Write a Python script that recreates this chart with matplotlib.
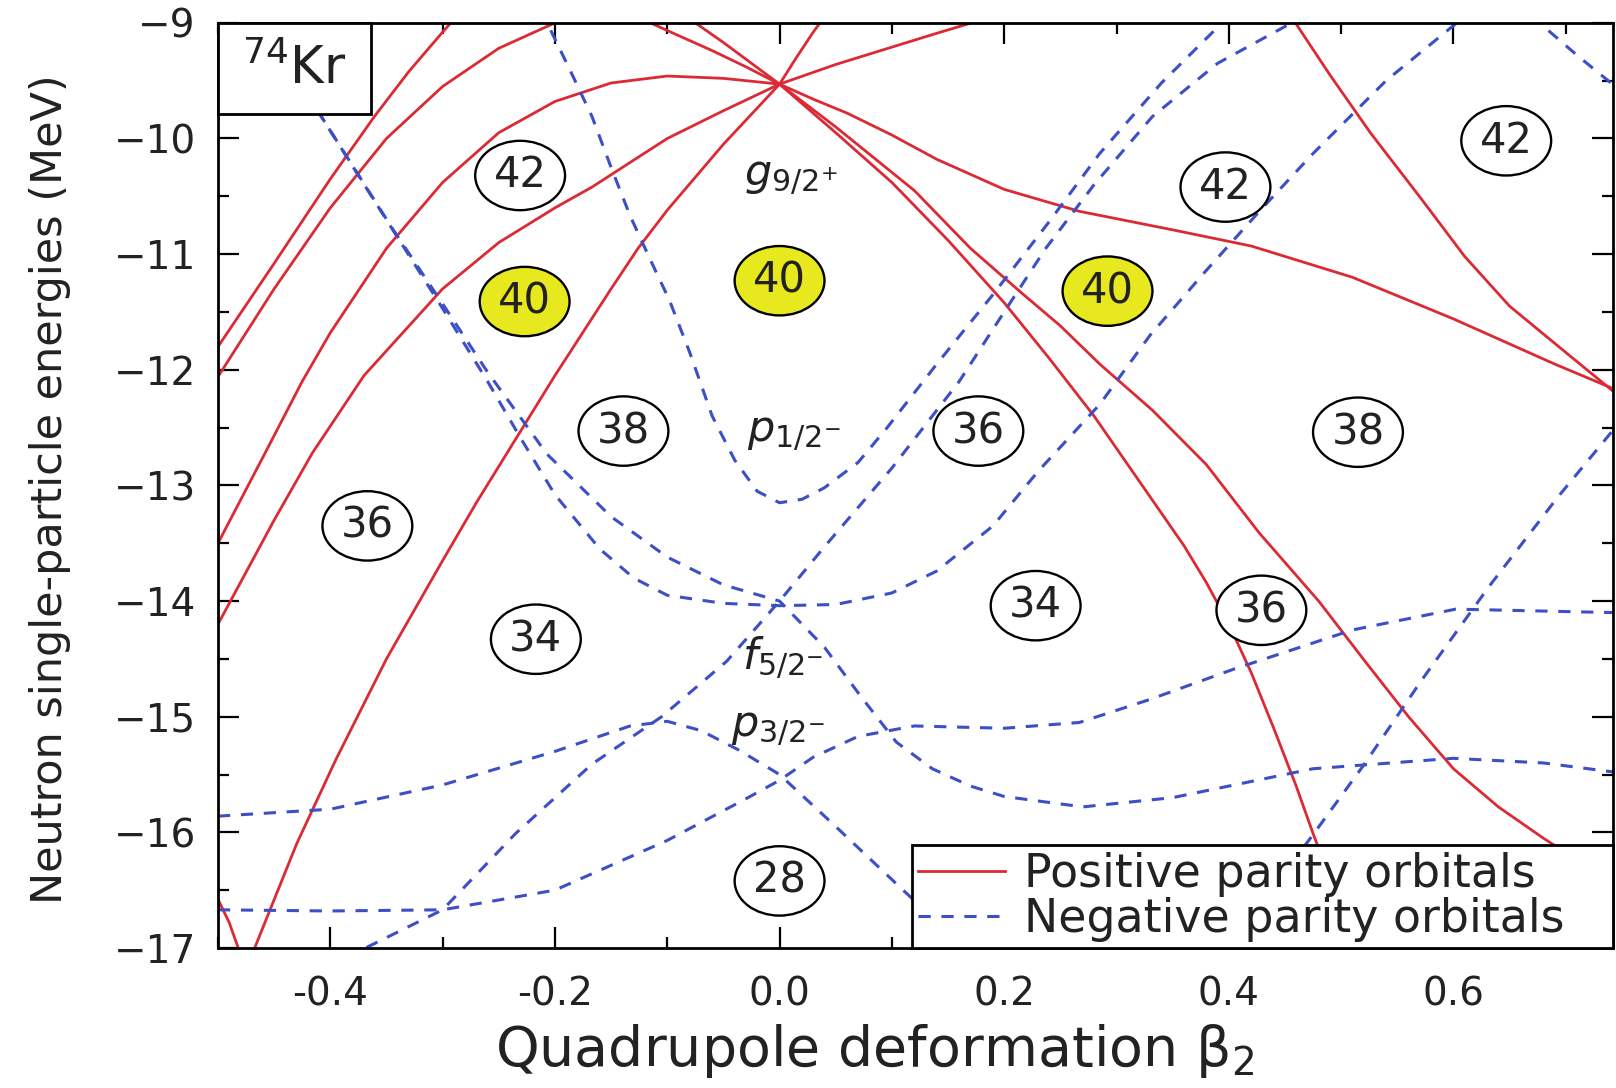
"""
plot.py
=======

Neutron Nilsson-type single-particle diagram for 74Kr, energies versus
quadrupole deformation beta_2.  Curve points are read off the reference
figure by eye.
"""

import matplotlib
matplotlib.use("Agg")
import matplotlib.pyplot as plt
from matplotlib.lines import Line2D
from matplotlib.patches import Ellipse, Rectangle
from matplotlib.ticker import FormatStrFormatter, MultipleLocator


# ---------------------------------------------------------------------------
# Positive parity orbitals (beta_2, energy in MeV)
# ---------------------------------------------------------------------------
POS_OBLATE_1 = [(-0.5, -11.8), (-0.45, -11.08), (-0.4, -10.35), (-0.36, -9.8),
                (-0.33, -9.42), (-0.3, -9.08), (-0.29, -8.97)]
POS_OBLATE_2 = [(-0.5, -12.06), (-0.45, -11.3), (-0.4, -10.6), (-0.35, -10.0),
                (-0.3, -9.55), (-0.25, -9.22), (-0.2, -9.0), (-0.18, -8.93)]
POS_ARCH = [(-0.5, -13.5), (-0.457, -12.7), (-0.425, -12.1), (-0.4, -11.68),
            (-0.35, -10.95), (-0.3, -10.38), (-0.25, -9.95), (-0.2, -9.68),
            (-0.15, -9.52), (-0.1, -9.46), (-0.05, -9.48), (0.0, -9.53)]
POS_OBLATE_4 = [(-0.5, -14.2), (-0.45, -13.3), (-0.416, -12.72), (-0.37, -12.05),
                (-0.3, -11.3), (-0.25, -10.9), (-0.2, -10.6), (-0.167, -10.42),
                (-0.1, -10.0), (-0.05, -9.76), (0.0, -9.53)]
POS_OBLATE_5 = [(0.0, -9.53), (-0.05, -10.05), (-0.1, -10.62), (-0.126, -10.95),
                (-0.15, -11.3), (-0.2, -12.05), (-0.235, -12.6), (-0.27, -13.15),
                (-0.3, -13.65), (-0.35, -14.5), (-0.395, -15.37), (-0.43, -16.1),
                (-0.469, -17.04), (-0.48, -17.3)]
POS_UPLEFT_1 = [(0.0, -9.53), (-0.03, -9.38), (-0.06, -9.24), (-0.09, -9.11),
                (-0.115, -9.0), (-0.13, -8.94)]
POS_UPLEFT_2 = [(0.0, -9.53), (-0.025, -9.35), (-0.05, -9.17), (-0.075, -9.0),
                (-0.085, -8.93)]
POS_UPRIGHT_1 = [(0.0, -9.53), (0.015, -9.3), (0.03, -9.08), (0.036, -9.0),
                 (0.04, -8.93)]
POS_UPRIGHT_2 = [(0.0, -9.53), (0.05, -9.36), (0.1, -9.21), (0.14, -9.09),
                 (0.171, -9.0), (0.18, -8.97)]
POS_PROLATE_S = [(0.0, -9.53), (0.03, -9.66), (0.06, -9.78), (0.1, -9.97),
                 (0.14, -10.18), (0.2, -10.44), (0.267, -10.63), (0.35, -10.79),
                 (0.42, -10.93), (0.51, -11.2), (0.6, -11.56), (0.69, -11.95),
                 (0.744, -12.17)]
POS_FROM_TOP = [(0.455, -8.93), (0.462, -9.04), (0.49, -9.45), (0.526, -9.95),
                (0.572, -10.53), (0.61, -11.02), (0.65, -11.45), (0.7, -11.85),
                (0.744, -12.2)]
POS_PROLATE_A = [(0.0, -9.53), (0.05, -9.95), (0.1, -10.38), (0.15, -10.88),
                 (0.2, -11.42), (0.24, -11.9), (0.28, -12.4), (0.33, -13.1),
                 (0.36, -13.52), (0.38, -13.84), (0.4, -14.2), (0.42, -14.62),
                 (0.44, -15.1), (0.46, -15.6), (0.475, -16.01), (0.5, -16.65),
                 (0.52, -17.2)]
POS_PROLATE_B = [(0.0, -9.53), (0.05, -9.9), (0.12, -10.45), (0.17, -10.95),
                 (0.216, -11.34), (0.25, -11.62), (0.285, -11.95), (0.332, -12.35),
                 (0.38, -12.82), (0.427, -13.41), (0.48, -14.0), (0.522, -14.53),
                 (0.56, -15.0), (0.6, -15.45), (0.64, -15.78), (0.68, -16.05),
                 (0.744, -16.45)]
POS_CORNER = [(-0.5, -16.58), (-0.49, -16.78), (-0.482, -17.0), (-0.475, -17.2)]

# ---------------------------------------------------------------------------
# Negative parity orbitals
# ---------------------------------------------------------------------------
NEG_P12 = [(-0.215, -8.9), (-0.207, -9.0), (-0.187, -9.4), (-0.167, -9.81),
           (-0.15, -10.25), (-0.133, -10.67), (-0.115, -11.05), (-0.098, -11.4),
           (-0.08, -11.85), (-0.06, -12.4), (-0.04, -12.78), (-0.02, -13.05),
           (0.0, -13.15), (0.02, -13.12), (0.04, -13.02), (0.07, -12.8),
           (0.095, -12.51), (0.14, -11.95), (0.19, -11.35), (0.24, -10.72),
           (0.285, -10.13), (0.34, -9.52), (0.394, -9.0), (0.4, -8.94)]
NEG_F52_U = [(-0.465, -8.9), (-0.41, -9.78), (-0.36, -10.55), (-0.3, -11.47),
             (-0.26, -12.1), (-0.23, -12.6), (-0.2, -13.08), (-0.16, -13.55),
             (-0.13, -13.8), (-0.1, -13.95), (-0.05, -14.02), (0.0, -14.04),
             (0.05, -14.03), (0.1, -13.93), (0.14, -13.74), (0.19, -13.35),
             (0.23, -12.88), (0.285, -12.3), (0.33, -11.7), (0.38, -11.14),
             (0.43, -10.6), (0.475, -10.13), (0.54, -9.5), (0.603, -9.0),
             (0.61, -8.93)]
NEG_F52_DOWN = [(-0.46, -8.9), (-0.408, -9.81), (-0.344, -10.79), (-0.3, -11.43),
                (-0.26, -12.02), (-0.207, -12.73), (-0.15, -13.27), (-0.1, -13.62),
                (-0.05, -13.86), (0.0, -14.0), (0.04, -14.4), (0.072, -14.82),
                (0.104, -15.22), (0.136, -15.45), (0.17, -15.6), (0.2, -15.69),
                (0.27, -15.78), (0.35, -15.7), (0.475, -15.45), (0.6, -15.36),
                (0.68, -15.4), (0.744, -15.48)]
NEG_F52_STEEP = [(-0.385, -17.1), (-0.377, -17.04), (-0.3, -16.67), (-0.235, -16.01),
                 (-0.167, -15.41), (-0.105, -15.0), (-0.047, -14.52), (0.0, -14.0),
                 (0.04, -13.53), (0.1, -12.85), (0.16, -12.1), (0.2, -11.5),
                 (0.237, -10.95), (0.28, -10.4), (0.332, -9.81), (0.39, -9.35),
                 (0.456, -9.0), (0.47, -8.93)]
NEG_P32_PEAK = [(-0.5, -15.86), (-0.4, -15.8), (-0.3, -15.59), (-0.2, -15.3),
                (-0.133, -15.08), (-0.1, -15.04), (-0.07, -15.12), (-0.036, -15.29),
                (0.0, -15.5), (0.05, -15.95), (0.11, -16.5), (0.16, -16.95),
                (0.2, -17.3)]
NEG_P32_FLAT = [(-0.5, -16.67), (-0.4, -16.68), (-0.3, -16.67), (-0.2, -16.5),
                (-0.1, -16.07), (-0.03, -15.71), (0.0, -15.55), (0.03, -15.35),
                (0.07, -15.17), (0.12, -15.08), (0.2, -15.1), (0.267, -15.05),
                (0.33, -14.85), (0.404, -14.59), (0.51, -14.25), (0.602, -14.07),
                (0.744, -14.1)]
NEG_STEEP_RIGHT = [(0.43, -16.6), (0.475, -16.02), (0.52, -15.42), (0.572, -14.68),
                   (0.632, -13.87), (0.693, -13.1), (0.744, -12.5)]
NEG_TOP_RIGHT = [(0.67, -8.93), (0.679, -9.02), (0.71, -9.28), (0.744, -9.55)]

# ---------------------------------------------------------------------------
# Shell-gap particle numbers and spherical orbital labels
# ---------------------------------------------------------------------------
GAP_NUMBERS = ["42", "40", "40", "40", "42", "42", "38", "36", "38",
               "36", "34", "34", "36", "28"]
GAP_BETA = [-0.231, -0.227, 0.0, 0.292, 0.397, 0.647, -0.139, 0.177, 0.515,
            -0.367, -0.217, 0.228, 0.429, 0.0]
GAP_ENERGY = [-10.32, -11.41, -11.23, -11.32, -10.42, -10.02, -12.53, -12.53,
              -12.54, -13.35, -14.33, -14.04, -14.08, -16.42]
GAP_HIGHLIGHT = [False, True, True, True, False, False, False, False, False,
                 False, False, False, False, False]

ORBITAL_LABELS = [r"$g_{9/2^{+}}$", r"$p_{1/2^{-}}$", r"$f_{5/2^{-}}$",
                  r"$p_{3/2^{-}}$"]
ORBITAL_BETA = [0.01, 0.013, 0.003, -0.002]
ORBITAL_ENERGY = [-10.33, -12.55, -14.5, -15.1]

LEGEND_LABELS = ["Positive parity orbitals", "Negative parity orbitals"]

POSITIVE = [POS_OBLATE_1, POS_OBLATE_2, POS_ARCH, POS_OBLATE_4, POS_OBLATE_5,
            POS_UPLEFT_1, POS_UPLEFT_2, POS_UPRIGHT_1, POS_UPRIGHT_2,
            POS_PROLATE_S, POS_FROM_TOP, POS_PROLATE_A, POS_PROLATE_B, POS_CORNER]
NEGATIVE = [NEG_P12, NEG_F52_U, NEG_F52_DOWN, NEG_F52_STEEP, NEG_P32_PEAK,
            NEG_P32_FLAT, NEG_STEEP_RIGHT, NEG_TOP_RIGHT]

RED = "#dc2a34"
BLUE = "#3c4fc6"
YELLOW = "#e8e81e"
INK = "#222222"
DASH = (0, (4, 3.5))


def main() -> None:
    fig = plt.figure(figsize=(16.16, 10.88), dpi=100, facecolor="white")
    ax = fig.add_axes([0.1349, 0.1287, 0.8632, 0.8503])

    for pts in POSITIVE:
        xs, ys = zip(*pts)
        ax.plot(xs, ys, color=RED, lw=2.0, zorder=2)
    for pts in NEGATIVE:
        xs, ys = zip(*pts)
        ax.plot(xs, ys, color=BLUE, lw=2.2, linestyle=DASH, zorder=2)

    for label, b, e, hi in zip(GAP_NUMBERS, GAP_BETA, GAP_ENERGY, GAP_HIGHLIGHT):
        ax.add_patch(Ellipse((b, e), width=0.08, height=0.6,
                             facecolor=YELLOW if hi else "white",
                             edgecolor="black", lw=1.7, zorder=4))
        ax.text(b, e, label, ha="center", va="center", fontsize=30,
                color=INK, zorder=5)

    for label, b, e in zip(ORBITAL_LABELS, ORBITAL_BETA, ORBITAL_ENERGY):
        ax.text(b, e, label, ha="center", va="center", fontsize=31,
                color=INK, zorder=5)

    # nucleus tag in the upper-left corner
    ax.add_patch(Rectangle((0.0, 0.902), 0.1094, 0.098, transform=ax.transAxes,
                           facecolor="white", edgecolor="black", lw=2.0,
                           zorder=6, clip_on=False))
    ax.text(0.0547, 0.949, r"$^{74}$Kr", transform=ax.transAxes,
            ha="center", va="center", fontsize=37, color=INK, zorder=7)

    ax.set_xlim(-0.5, 0.742)
    ax.set_ylim(-17, -9)
    ax.xaxis.set_major_locator(MultipleLocator(0.2))
    ax.xaxis.set_minor_locator(MultipleLocator(0.1))
    ax.xaxis.set_major_formatter(FormatStrFormatter("%.1f"))
    ax.yaxis.set_major_locator(MultipleLocator(1))
    ax.yaxis.set_minor_locator(MultipleLocator(0.5))
    ax.tick_params(which="both", direction="in", top=True, right=True,
                   width=1.6, labelsize=28, labelcolor=INK)
    ax.tick_params(axis="x", pad=20)
    ax.tick_params(axis="y", pad=16)
    ax.tick_params(which="major", length=15)
    ax.tick_params(which="minor", length=8)
    for sp in ax.spines.values():
        sp.set_linewidth(2.0)

    # legend box stretched over the lower-right corner, as in the original
    handles = [Line2D([], [], color=RED, lw=2.0),
               Line2D([], [], color=BLUE, lw=2.2, linestyle=DASH)]
    leg = ax.legend(handles, LEGEND_LABELS, loc="lower left",
                    bbox_to_anchor=(0.4975, 0.0, 0.5025, 0.12), mode="expand",
                    fontsize=33, frameon=True, fancybox=False,
                    edgecolor="black", framealpha=1.0, borderaxespad=0.0,
                    handlelength=1.9, handletextpad=0.4, labelspacing=0.0,
                    borderpad=0.14)
    leg.get_frame().set_linewidth(2.0)
    leg.set_zorder(8)
    for t in leg.get_texts():
        t.set_color(INK)

    fig.text(0.541, 0.034, "Quadrupole deformation β$_2$", ha="center",
             va="center", fontsize=40, color=INK)
    fig.text(0.031, 0.55, "Neutron single-particle energies (MeV)", ha="center",
             va="center", rotation=90, fontsize=31, color=INK)

    fig.savefig("out.png", dpi=100, facecolor="white")
    plt.close(fig)


if __name__ == "__main__":
    main()
